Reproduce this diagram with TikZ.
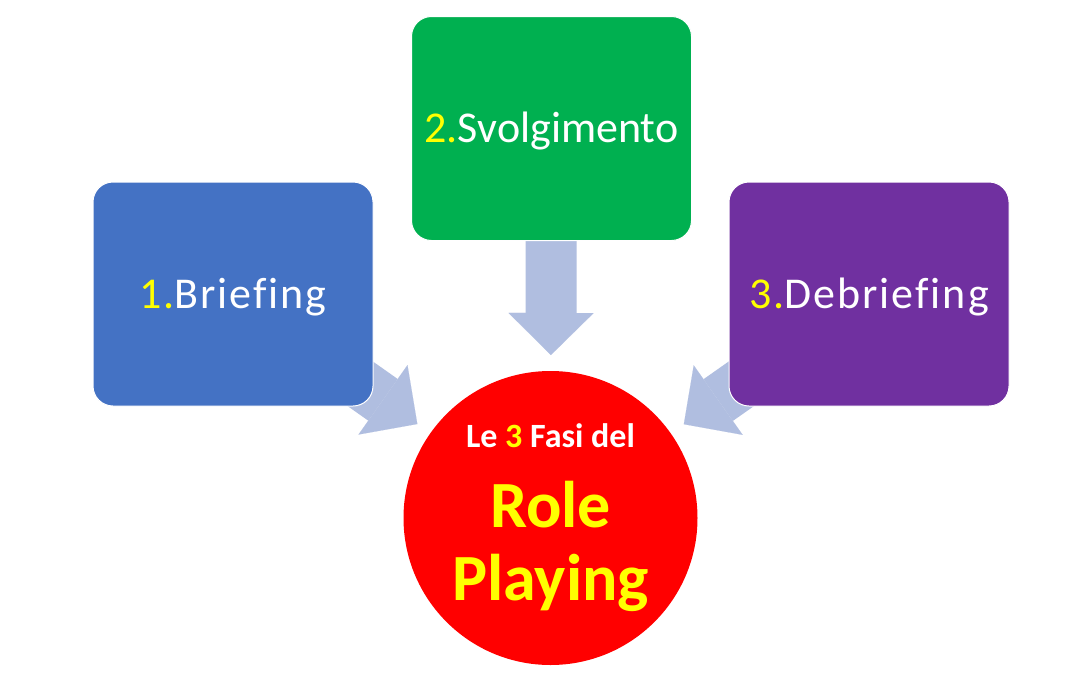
\documentclass[tikz,border=0pt]{standalone}
\usepackage{fontspec}
\setmainfont{Carlito}[Ligatures=NoCommon]
\newfontfamily\widefont{Carlito}[Ligatures=NoCommon,LetterSpace=4.5]
\usepackage{xcolor}
\usetikzlibrary{arrows.meta,positioning,backgrounds,calc}
\definecolor{fblue}{RGB}{68,114,196}
\definecolor{fgreen}{RGB}{0,176,80}
\definecolor{fpurple}{RGB}{112,48,160}
\definecolor{fyellow}{RGB}{255,255,0}
\definecolor{arrowblue}{RGB}{176,190,224}

\begin{document}
\begin{tikzpicture}[x=1pt,y=-1pt,
  fase/.style={rounded corners=20pt, minimum width=280pt, minimum height=224pt, inner sep=0pt,
               draw=white, line width=1pt, text=white, font=\fontsize{44}{53}\selectfont,
               text height=28pt, text depth=0pt},
  fatarrow/.style={arrowblue, line width=51pt, shorten >=163pt,
               -{Triangle[width=85pt,length=42pt,line width=0.1pt]}}]

% canvas
\begin{scope}[on background layer]
\fill[white] (0,0) rectangle (1080,675);
\end{scope}
\useasboundingbox (0,0) rectangle (1080,675);

\def\rFasi{147}

% the three phases
\node[fase, fill=fblue]   (brief)   at (233,294)   {\widefont{\color{fyellow}1.}Briefing};
\node[fase, fill=fgreen]  (svolg)   at (551.5,128.5) {{\color{fyellow}2.}Svolgimento};
\node[fase, fill=fpurple] (debrief) at (869,294)   {\widefont{\color{fyellow}3.}Debriefing};

% the circle in the middle
\node[circle, fill=red, minimum size={2*\rFasi pt}, inner sep=0pt, align=center,
      font=\bfseries\fontsize{66}{73}\selectfont, text=fyellow]
  (fasi) at (550.5,518)
  {{\fontsize{34}{38}\selectfont\color{white}Le {\color{fyellow}3} Fasi del}\\[7pt]
   Role\\
   Playing};

% block arrows, behind the boxes
\begin{scope}[on background layer]
\foreach \src in {brief,svolg,debrief}
  \draw[fatarrow] (\src.center) -- (fasi.center);
\end{scope}

\end{tikzpicture}
\end{document}
